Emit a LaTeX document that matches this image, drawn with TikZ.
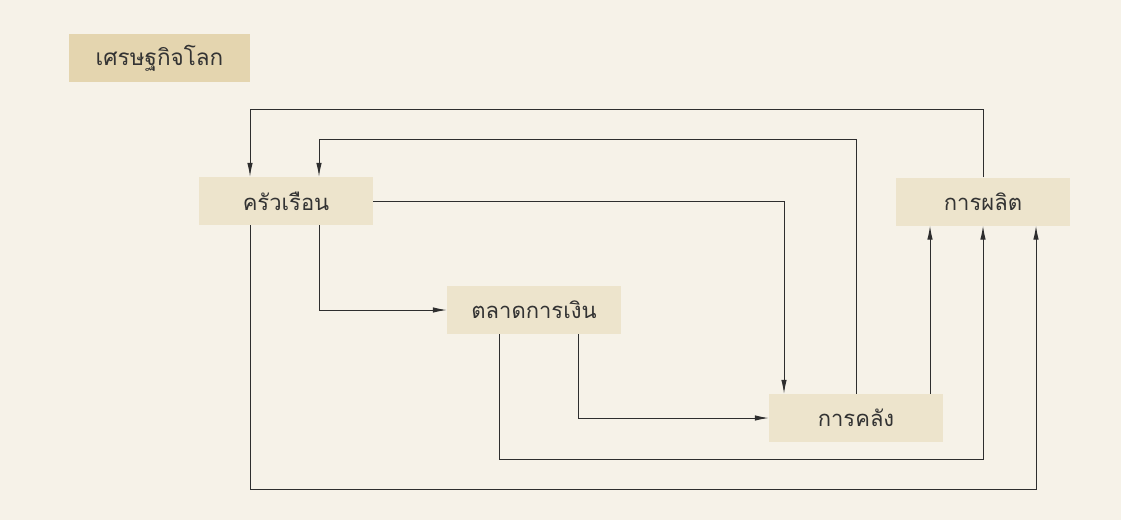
\documentclass[tikz,border=0pt]{standalone}
\usepackage{fontspec}
\newfontfamily\thaifont[Script=Thai]{Loma}
\usetikzlibrary{arrows.meta}
\definecolor{bg}{HTML}{F6F2E8}
\definecolor{boxc}{HTML}{EDE4CC}
\definecolor{titlec}{HTML}{E4D5AF}
\definecolor{linec}{HTML}{2E2E2E}
\tikzset{
  box/.style={fill=boxc, draw=none, minimum width=174pt, minimum height=48pt, inner sep=0pt, font=\thaifont\fontsize{22}{26}\selectfont, text=black!80},
  conn/.style={draw=linec, line width=1pt, -{Latex[length=14pt,width=5.5pt]}},
}
\begin{document}
\begin{tikzpicture}[x=1pt,y=-1pt]
\fill[bg] (0,0) rectangle (1121,520);
\useasboundingbox (0,0) rectangle (1121,520);
\node[fill=titlec, minimum width=181pt, minimum height=48pt, inner sep=0pt, font=\thaifont\fontsize{22.5}{26}\selectfont, text=black!80] (title) at (159.5,58) {เศรษฐกิจโลก};
\node[box] (hh) at (286,201) {ครัวเรือน};
\node[box] (fm) at (534,310) {ตลาดการเงิน};
\node[box] (tr) at (856,418) {การคลัง};
\node[box] (pr) at (983,201.5) {การผลิต};
% production -> households (top)
\draw[conn] (pr.north) |- (250,109) -- (hh.north -| 250,0);
% treasury -> households
\draw[conn] (tr.north) |- (319,139) -- (hh.north -| 319,0);
% households -> treasury
\draw[conn] (hh.east) -| (tr.north -| 784,0);
% households -> financial market
\draw[conn] (hh.south -| 319,0) |- (fm.west);
% financial market -> treasury
\draw[conn] (fm.south -| 578,0) |- (tr.west);
% financial market -> production
\draw[conn] (fm.south -| 499,0) |- (983,459) -- (pr.south -| 983,0);
% households -> production
\draw[conn] (hh.south -| 250,0) |- (1036,489) -- (pr.south -| 1036,0);
% treasury -> production
\draw[conn] (tr.north -| 930,0) -- (pr.south -| 930,0);
\end{tikzpicture}
\end{document}
